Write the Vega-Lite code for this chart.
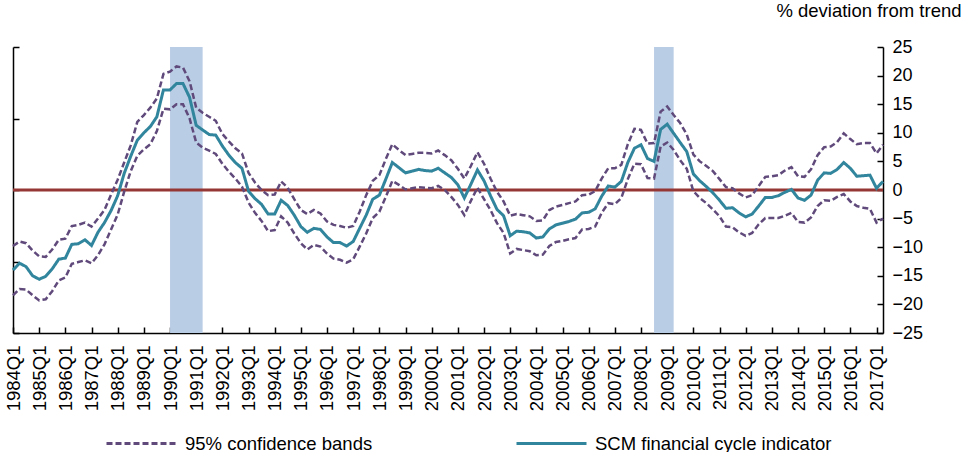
{
  "$schema": "https://vega.github.io/schema/vega-lite/v6.json",
  "width": 870,
  "height": 286,
  "autosize": "none",
  "padding": {"left": 13, "top": 47, "right": 81, "bottom": 119},
  "background": "white",
  "config": {
    "view": {"stroke": null},
    "font": "Liberation Sans",
    "axis": {"grid": false, "domainColor": "black", "tickColor": "black", "labelColor": "black", "labelFont": "Liberation Sans", "labelFontSize": 18, "domainWidth": 1.5, "tickWidth": 1.5},
    "axisX": {"tickCount": {"interval": "year", "step": 1}, "labelExpr": "utcFormat(datum.value, '%Y') + 'Q1'", "labelAngle": -90, "tickSize": -6, "labelPadding": 18, "labelFontSize": 18.5, "labelOverlap": false, "labelFlush": false, "labelBound": false}
  },
  "data": {"values": [
    {"d":"1984-01-01","ind":-14.0,"up":-9.8,"lo":-18.4},
    {"d":"1984-04-01","ind":-12.8,"up":-9.0,"lo":-17.3},
    {"d":"1984-07-01","ind":-13.4,"up":-9.3,"lo":-17.4},
    {"d":"1984-10-01","ind":-15.0,"up":-10.6,"lo":-18.4},
    {"d":"1985-01-01","ind":-15.6,"up":-11.6,"lo":-19.3},
    {"d":"1985-04-01","ind":-15.1,"up":-11.7,"lo":-19.1},
    {"d":"1985-07-01","ind":-13.8,"up":-10.4,"lo":-17.7},
    {"d":"1985-10-01","ind":-12.1,"up":-8.7,"lo":-15.8},
    {"d":"1986-01-01","ind":-11.9,"up":-8.5,"lo":-15.3},
    {"d":"1986-04-01","ind":-9.5,"up":-6.3,"lo":-12.9},
    {"d":"1986-07-01","ind":-9.4,"up":-6.1,"lo":-12.6},
    {"d":"1986-10-01","ind":-8.7,"up":-5.7,"lo":-12.3},
    {"d":"1987-01-01","ind":-9.7,"up":-6.4,"lo":-12.8},
    {"d":"1987-04-01","ind":-7.4,"up":-5.0,"lo":-11.4},
    {"d":"1987-07-01","ind":-5.7,"up":-3.5,"lo":-9.5},
    {"d":"1987-10-01","ind":-3.6,"up":-0.8,"lo":-6.9},
    {"d":"1988-01-01","ind":-1.0,"up":1.8,"lo":-4.3},
    {"d":"1988-04-01","ind":2.9,"up":4.8,"lo":-0.3},
    {"d":"1988-07-01","ind":5.9,"up":7.8,"lo":3.3},
    {"d":"1988-10-01","ind":8.7,"up":11.9,"lo":6.0},
    {"d":"1989-01-01","ind":10.0,"up":13.1,"lo":7.1},
    {"d":"1989-04-01","ind":11.1,"up":14.4,"lo":8.0},
    {"d":"1989-07-01","ind":12.8,"up":16.0,"lo":10.3},
    {"d":"1989-10-01","ind":17.5,"up":20.3,"lo":14.2},
    {"d":"1990-01-01","ind":17.5,"up":20.7,"lo":14.1},
    {"d":"1990-04-01","ind":18.6,"up":21.6,"lo":15.0},
    {"d":"1990-07-01","ind":18.6,"up":21.4,"lo":15.0},
    {"d":"1990-10-01","ind":16.2,"up":19.0,"lo":12.5},
    {"d":"1991-01-01","ind":11.3,"up":14.4,"lo":8.3},
    {"d":"1991-04-01","ind":10.5,"up":13.5,"lo":7.4},
    {"d":"1991-07-01","ind":9.7,"up":12.8,"lo":6.9},
    {"d":"1991-10-01","ind":9.6,"up":12.1,"lo":6.3},
    {"d":"1992-01-01","ind":7.7,"up":9.8,"lo":4.6},
    {"d":"1992-04-01","ind":6.1,"up":8.5,"lo":3.2},
    {"d":"1992-07-01","ind":4.8,"up":7.3,"lo":2.0},
    {"d":"1992-10-01","ind":3.8,"up":6.4,"lo":0.6},
    {"d":"1993-01-01","ind":-0.2,"up":3.0,"lo":-2.2},
    {"d":"1993-04-01","ind":-1.5,"up":1.3,"lo":-4.0},
    {"d":"1993-07-01","ind":-2.5,"up":0.0,"lo":-5.4},
    {"d":"1993-10-01","ind":-4.2,"up":-0.9,"lo":-7.2},
    {"d":"1994-01-01","ind":-4.2,"up":-0.8,"lo":-7.0},
    {"d":"1994-04-01","ind":-1.8,"up":1.5,"lo":-4.6},
    {"d":"1994-07-01","ind":-2.7,"up":0.4,"lo":-5.7},
    {"d":"1994-10-01","ind":-4.4,"up":-1.6,"lo":-7.6},
    {"d":"1995-01-01","ind":-6.4,"up":-3.5,"lo":-9.3},
    {"d":"1995-04-01","ind":-7.4,"up":-4.2,"lo":-10.4},
    {"d":"1995-07-01","ind":-6.7,"up":-3.5,"lo":-9.6},
    {"d":"1995-10-01","ind":-6.9,"up":-4.1,"lo":-9.9},
    {"d":"1996-01-01","ind":-8.2,"up":-5.5,"lo":-11.1},
    {"d":"1996-04-01","ind":-9.2,"up":-6.1,"lo":-12.0},
    {"d":"1996-07-01","ind":-9.2,"up":-6.3,"lo":-12.2},
    {"d":"1996-10-01","ind":-9.8,"up":-6.6,"lo":-12.7},
    {"d":"1997-01-01","ind":-9.0,"up":-6.3,"lo":-12.1},
    {"d":"1997-04-01","ind":-6.7,"up":-3.8,"lo":-9.9},
    {"d":"1997-07-01","ind":-4.4,"up":-0.9,"lo":-7.6},
    {"d":"1997-10-01","ind":-1.6,"up":1.6,"lo":-4.9},
    {"d":"1998-01-01","ind":-0.9,"up":2.6,"lo":-3.8},
    {"d":"1998-04-01","ind":1.9,"up":5.4,"lo":-1.2},
    {"d":"1998-07-01","ind":4.8,"up":8.0,"lo":1.6},
    {"d":"1998-10-01","ind":3.9,"up":7.0,"lo":0.9},
    {"d":"1999-01-01","ind":3.0,"up":6.1,"lo":0.1},
    {"d":"1999-04-01","ind":3.3,"up":6.3,"lo":0.3},
    {"d":"1999-07-01","ind":3.6,"up":6.5,"lo":0.5},
    {"d":"1999-10-01","ind":3.4,"up":6.5,"lo":0.4},
    {"d":"2000-01-01","ind":3.3,"up":6.4,"lo":0.3},
    {"d":"2000-04-01","ind":3.8,"up":6.9,"lo":0.7},
    {"d":"2000-07-01","ind":3.0,"up":6.1,"lo":0.0},
    {"d":"2000-10-01","ind":2.2,"up":5.2,"lo":-1.2},
    {"d":"2001-01-01","ind":0.9,"up":3.7,"lo":-2.6},
    {"d":"2001-04-01","ind":-1.4,"up":2.0,"lo":-4.4},
    {"d":"2001-07-01","ind":1.0,"up":4.2,"lo":-1.9},
    {"d":"2001-10-01","ind":3.5,"up":6.6,"lo":0.4},
    {"d":"2002-01-01","ind":1.6,"up":4.6,"lo":-1.6},
    {"d":"2002-04-01","ind":-1.0,"up":2.0,"lo":-3.5},
    {"d":"2002-07-01","ind":-3.4,"up":-0.3,"lo":-5.8},
    {"d":"2002-10-01","ind":-4.5,"up":-2.0,"lo":-7.5},
    {"d":"2003-01-01","ind":-8.0,"up":-4.5,"lo":-11.1},
    {"d":"2003-04-01","ind":-7.2,"up":-4.2,"lo":-10.3},
    {"d":"2003-07-01","ind":-7.3,"up":-4.4,"lo":-10.5},
    {"d":"2003-10-01","ind":-7.5,"up":-4.6,"lo":-10.7},
    {"d":"2004-01-01","ind":-8.4,"up":-5.4,"lo":-11.4},
    {"d":"2004-04-01","ind":-8.2,"up":-5.3,"lo":-11.3},
    {"d":"2004-07-01","ind":-6.8,"up":-3.5,"lo":-9.8},
    {"d":"2004-10-01","ind":-6.1,"up":-2.9,"lo":-9.1},
    {"d":"2005-01-01","ind":-5.8,"up":-2.6,"lo":-8.9},
    {"d":"2005-04-01","ind":-5.5,"up":-2.3,"lo":-8.6},
    {"d":"2005-07-01","ind":-5.1,"up":-2.0,"lo":-8.4},
    {"d":"2005-10-01","ind":-4.0,"up":-0.9,"lo":-6.9},
    {"d":"2006-01-01","ind":-3.9,"up":-0.8,"lo":-6.8},
    {"d":"2006-04-01","ind":-3.3,"up":-0.2,"lo":-6.4},
    {"d":"2006-07-01","ind":-1.1,"up":2.0,"lo":-4.0},
    {"d":"2006-10-01","ind":0.7,"up":3.8,"lo":-2.3},
    {"d":"2007-01-01","ind":0.5,"up":3.8,"lo":-2.5},
    {"d":"2007-04-01","ind":1.5,"up":4.4,"lo":-1.4},
    {"d":"2007-07-01","ind":4.8,"up":8.0,"lo":1.9},
    {"d":"2007-10-01","ind":7.3,"up":10.7,"lo":4.6},
    {"d":"2008-01-01","ind":7.9,"up":10.5,"lo":4.5},
    {"d":"2008-04-01","ind":5.5,"up":8.1,"lo":2.1},
    {"d":"2008-07-01","ind":5.0,"up":8.2,"lo":2.0},
    {"d":"2008-10-01","ind":10.6,"up":13.7,"lo":7.6},
    {"d":"2009-01-01","ind":11.5,"up":14.6,"lo":8.3},
    {"d":"2009-04-01","ind":9.9,"up":13.1,"lo":7.0},
    {"d":"2009-07-01","ind":8.3,"up":11.7,"lo":5.2},
    {"d":"2009-10-01","ind":6.7,"up":9.7,"lo":3.7},
    {"d":"2010-01-01","ind":2.8,"up":6.2,"lo":-0.2},
    {"d":"2010-04-01","ind":1.6,"up":5.0,"lo":-1.4},
    {"d":"2010-07-01","ind":0.6,"up":4.2,"lo":-2.3},
    {"d":"2010-10-01","ind":-0.5,"up":3.3,"lo":-3.4},
    {"d":"2011-01-01","ind":-1.8,"up":1.9,"lo":-4.6},
    {"d":"2011-04-01","ind":-3.2,"up":0.5,"lo":-6.4},
    {"d":"2011-07-01","ind":-3.1,"up":0.3,"lo":-6.5},
    {"d":"2011-10-01","ind":-4.0,"up":-0.6,"lo":-7.4},
    {"d":"2012-01-01","ind":-4.7,"up":-1.3,"lo":-8.0},
    {"d":"2012-04-01","ind":-4.2,"up":-0.9,"lo":-7.5},
    {"d":"2012-07-01","ind":-2.8,"up":0.7,"lo":-6.0},
    {"d":"2012-10-01","ind":-1.3,"up":2.3,"lo":-4.9},
    {"d":"2013-01-01","ind":-1.3,"up":2.4,"lo":-4.9},
    {"d":"2013-04-01","ind":-1.0,"up":2.6,"lo":-4.9},
    {"d":"2013-07-01","ind":-0.4,"up":3.4,"lo":-4.5},
    {"d":"2013-10-01","ind":0.1,"up":4.0,"lo":-4.0},
    {"d":"2014-01-01","ind":-1.4,"up":2.4,"lo":-5.6},
    {"d":"2014-04-01","ind":-1.8,"up":2.3,"lo":-5.7},
    {"d":"2014-07-01","ind":-0.9,"up":3.6,"lo":-4.8},
    {"d":"2014-10-01","ind":1.7,"up":6.1,"lo":-2.8},
    {"d":"2015-01-01","ind":3.0,"up":7.5,"lo":-1.8},
    {"d":"2015-04-01","ind":2.9,"up":7.6,"lo":-1.9},
    {"d":"2015-07-01","ind":3.6,"up":8.4,"lo":-1.2},
    {"d":"2015-10-01","ind":4.8,"up":9.9,"lo":-0.7},
    {"d":"2016-01-01","ind":3.8,"up":8.9,"lo":-2.0},
    {"d":"2016-04-01","ind":2.4,"up":8.0,"lo":-2.8},
    {"d":"2016-07-01","ind":2.5,"up":8.2,"lo":-3.1},
    {"d":"2016-10-01","ind":2.6,"up":8.2,"lo":-3.3},
    {"d":"2017-01-01","ind":0.3,"up":6.4,"lo":-5.7},
    {"d":"2017-04-01","ind":1.5,"up":7.9,"lo":-5.0}
  ]},
  "resolve": {"axis": {"y": "independent"}},
  "layer": [
    {
      "data": {"values": [{"start": "1990-01-01", "end": "1991-04-01"}, {"start": "2008-07-01", "end": "2009-04-01"}]},
      "mark": {"type": "rect", "color": "#B9CDE5", "opacity": 1},
      "encoding": {
        "x": {"field": "start", "type": "temporal", "title": null,
              "scale": {"type": "utc", "domain": [{"year": 1984, "month": 1, "date": 1, "utc": true}, {"year": 2017, "month": 4, "date": 1, "utc": true}]}},
        "x2": {"field": "end"}
      }
    },
    {
      "data": {"values": [{}]},
      "mark": {"type": "rule", "color": "#953735", "strokeWidth": 3},
      "encoding": {"y": {"datum": 0, "type": "quantitative", "scale": {"domain": [-25, 25]}, "axis": null}}
    },
    {
      "mark": {"type": "line", "strokeWidth": 2.5, "strokeCap": "butt"},
      "encoding": {
        "x": {"field": "d", "type": "temporal", "title": null},
        "y": {"field": "up", "type": "quantitative", "scale": {"domain": [-25, 25]},
              "axis": {"orient": "left", "title": null, "labels": false, "values": [-25, -12.5, 0, 12.5, 25], "tickSize": -6}},
        "color": {"datum": "95% confidence bands", "type": "nominal",
                  "scale": {"domain": ["95% confidence bands", "SCM financial cycle indicator"], "range": ["#604A7B", "#31859C"]},
                  "legend": {"orient": "none", "direction": "horizontal", "legendX": 92, "legendY": 360, "title": null,
                             "labelFontSize": 18.5, "labelColor": "black", "labelLimit": 500, "symbolType": "stroke", "symbolSize": 4900,
                             "symbolStrokeWidth": 3, "columnPadding": 137, "labelOffset": 7}},
        "strokeDash": {"datum": "95% confidence bands", "type": "nominal",
                       "scale": {"domain": ["95% confidence bands", "SCM financial cycle indicator"], "range": [[6, 3], [1, 0]]},
                       "legend": {"orient": "none", "direction": "horizontal", "legendX": 92, "legendY": 360, "title": null,
                             "labelFontSize": 18.5, "labelColor": "black", "labelLimit": 500, "symbolType": "stroke", "symbolSize": 4900,
                             "symbolStrokeWidth": 3, "columnPadding": 137, "labelOffset": 7}}
      }
    },
    {
      "mark": {"type": "line", "strokeWidth": 2.5, "strokeCap": "butt"},
      "encoding": {
        "x": {"field": "d", "type": "temporal", "title": null},
        "y": {"field": "lo", "type": "quantitative", "axis": null},
        "color": {"datum": "95% confidence bands", "type": "nominal"},
        "strokeDash": {"datum": "95% confidence bands", "type": "nominal"}
      }
    },
    {
      "mark": {"type": "line", "strokeWidth": 3},
      "encoding": {
        "x": {"field": "d", "type": "temporal", "title": null},
        "y": {"field": "ind", "type": "quantitative",
              "axis": {"orient": "right", "title": "% deviation from trend", "titleAngle": 0, "titleAlign": "right",
                       "titleX": 78, "titleY": -37, "titleBaseline": "middle", "titleFontSize": 18.5, "titleFontWeight": "normal",
                       "titleColor": "black", "titleFont": "Liberation Sans",
                       "values": [-25, -20, -15, -10, -5, 0, 5, 10, 15, 20, 25], "tickSize": -6, "labelAlign": "left",
                       "labelPadding": 15, "labelBaseline": "middle", "labelFlush": false, "labelOverlap": false, "labelBound": false}},
        "color": {"datum": "SCM financial cycle indicator", "type": "nominal"},
        "strokeDash": {"datum": "SCM financial cycle indicator", "type": "nominal"}
      }
    }
  ]
}
